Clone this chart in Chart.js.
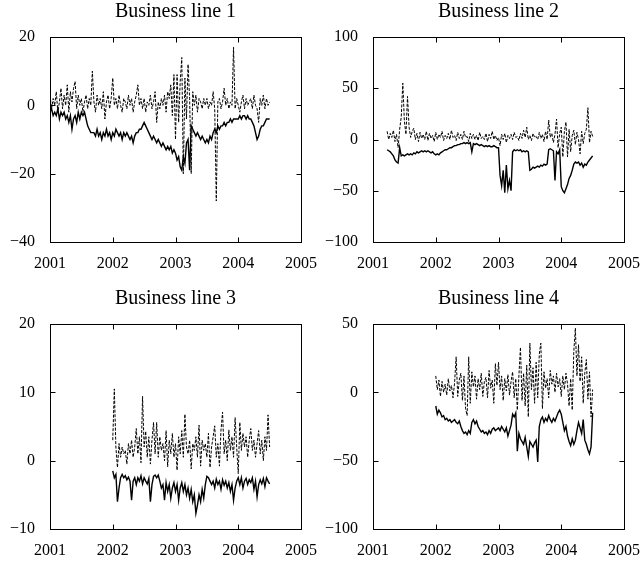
<!DOCTYPE html>
<html>
<head>
<meta charset="utf-8">
<script src="https://cdn.jsdelivr.net/npm/chart.js@4/dist/chart.umd.min.js"></script>
<style>
html,body{margin:0;padding:0;background:#fff;}
#wrap{position:relative;width:642px;height:561px;overflow:hidden;}
canvas{position:absolute;}
</style>
</head>
<body>
<div id="wrap">
<canvas id="c1" width="321" height="280" style="left:0;top:0"></canvas>
<canvas id="c2" width="321" height="280" style="left:321px;top:0"></canvas>
<canvas id="c3" width="321" height="281" style="left:0;top:280px"></canvas>
<canvas id="c4" width="321" height="281" style="left:321px;top:280px"></canvas>
</div>
<script>
// ---- data (sampled every 0.025 year) ----
const titles = ["Business line 1", "Business line 2", "Business line 3", "Business line 4"];
const xTicks = [2001, 2002, 2003, 2004, 2005];
const sampleStep = 0.025;
const starts = [2001.0, 2001.225, 2002.0, 2002.0];
const yTicks1 = [-40, -20, 0, 20];
const yTicks2 = [-100, -50, 0, 50, 100];
const yTicks3 = [-10, 0, 10, 20];
const yTicks4 = [-100, -50, 0, 50];

const bl1Dashed = [
 3,-1,2,0, 4,-2,1,5, -1,3,0,6, -2,4,1,5, 7,-1,3,0, 2,-2,1,3, -1,2,0,10, 1,-2,3,0, 2,-1,4,-4, 1,3,-1,2,
 8,0,2,-1, 3,0,-2,2, 1,-1,3,0, 2,-2,1,3, 6,0,2,-1, 2,-2,1,0, 3,-1,1,4, -5,1,-1,2, 0,3,-2,4, 2,6,-3,9,
 -10,9,-5,7, 14,-20,8,-4, 12,2,-20,4, 0,3,-2,2, 1,-1,2,0, 2,-1,1,0, 4,-1,-28,1, 2,-1,1,5, 0,2,-1,1, 0,17,-1,2,
 0,-2,1,3, -1,2,0,1, 2,-1,3,0, -1,-5,2,0, 3,-1,2,0, 1];
const bl1Solid = [
 -2,-1,-3,-2, -3,-1,-4,-2, -3,-2,-4,-3, -5,-3,-7,-4, -3,-5,-2,-4, -2,-3,-2,-4, -6,-7,-8,-8, -8,-9,-7,-9, -8,-10,-8,-9, -7,-9,-8,-10,
 -8,-9,-7,-8, -9,-8,-10,-8, -9,-8,-9,-10, -9,-11,-9,-8, -8,-7,-7,-6, -5,-6,-7,-8, -9,-10,-9,-10, -11,-10,-11,-12, -11,-12,-13,-12, -13,-12,-14,-13,
 -14,-16,-15,-18, -19,-15,-17,-11, -10,-19,-6,-7, -8,-9,-8,-9, -10,-9,-10,-11, -10,-11,-9,-10, -8,-7,-8,-6, -7,-6,-6,-5, -6,-5,-5,-4, -5,-4,-4,-4,
 -4,-3,-4,-3, -3,-4,-3,-4, -4,-5,-6,-8, -10,-9,-7,-6, -6,-5,-4,-4, -4];

const bl2Dashed = [
 8,0,6,
 2,9,-2,5, -8,10,22,55, 18,5,42,12, 2,8,11,0, 6,-2,7,1, 5,0,8,-1, 6,1,4,-2,
 7,0,5,2, 8,-1,4,1, 6,0,9,2, 4,-1,7,1, 5,0,8,2, 3,-2,6,1, 5,0,4,-1, 7,1,3,0, 6,-2,5,1, 8,0,4,-1,
 2,-6,5,0, 6,-3,4,1, 5,0,7,2, 3,-1,6,1, 9,2,12,0, 4,-1,6,2, 3,0,7,1, 5,-2,8,0, 19,2,6,-3, 5,20,-8,6,
 12,-17,8,17, -17,10,-12,4, 9,-5,7,0, -14,8,-4,6, 10,31,-3,8, 3];
const bl2Solid = [
 -10,-11,-12,
 -14,-16,-20,-22, -23,-8,-16,-15, -16,-15,-14,-15, -14,-15,-13,-14, -12,-13,-12,-11, -12,-11,-12,-11, -12,-13,-12,-14,
 -15,-14,-15,-13, -12,-11,-10,-10, -9,-8,-8,-7, -6,-6,-5,-5, -4,-4,-3,-4, -3,-4,-3,-12, -4,-5,-4,-5, -6,-5,-6,-7, -6,-7,-6,-7, -7,-6,-7,-8,
 -8,-35,-45,-30, -52,-25,-48,-40, -50,-12,-10,-11, -10,-11,-10,-12, -11,-12,-11,-12, -30,-29,-27,-28, -27,-26,-27,-25, -26,-24,-25,-24, -10,-9,-10,-11, -40,-12,-14,-10,
 -46,-50,-52,-48, -44,-38,-35,-30, -24,-22,-23,-22, -25,-23,-27,-24, -25,-22,-20,-18, -16];

const bl3Dashed = [
 3,10.5,2,-1, 2.5,0.5,2,1, 1.5,-0.5,2.5,1, 3,0.5,2,4.7, 1,3.5,-0.3,9.4, 2,4.3,0.5,3.5, -0.5,3,5.6,1, 5.6,0.5,3.5,1.5, 2.5,0,4.4,-0.9, 3,1,4,0.5,
 2.5,-1.4,3.5,1, 4.4,0.5,6.8,2, 1,3,-1.2,2.5, 1.5,3.5,0.5,5.2, -0.8,3,1.5,2.5, 0.5,4,-1,2, 3.5,5.1,0.5,2.5, -0.8,4.5,7.1,1, 3,0,4.5,1.5, 3.5,0.5,6.3,2,
 -1.9,5.6,1.5,4, 2,3.5,0.5,3, 4.7,1.5,3,0.5, 2.5,4.4,1,3, 0,3.5,1.5,6.7, 2];
const bl3Solid = [
 -1.5,-2.5,-2,-6, -4,-2.5,-2,-2.5, -2.2,-2.8,-2.4,-3, -5.8,-3,-2.5,-3.5, -2.5,-3,-2.2,-3.4, -2.5,-3,-3.4,-2.6, -6,-3.5,-2.3,-2.1, -2.5,-2.1,-3,-4, -3.5,-5.8,-3.2,-4.5, -3.5,-5.5,-4,-3.2,
 -4.5,-3.5,-5.8,-4, -3.2,-4.5,-3.5,-5, -4,-5.5,-4.2,-6, -5,-7.7,-6.5,-5, -6,-4.2,-5.5,-3.5, -2.3,-2.5,-3,-3.5, -3,-4,-2.7,-3.5, -3,-4.2,-2.8,-3.6, -3,-4,-3.2,-4.5, -3.5,-5.8,-4,-3,
 -2.5,-3.5,-2.5,-4, -3,-2.6,-3.5,-2.8, -3.2,-2.5,-4.2,-3, -5.3,-3.5,-2.8,-3.4, -2.6,-3.8,-2.5,-3, -3.4];

const bl4Dashed = [
 12,2,9,-3, 8,0,6,-2, 10,1,5,-4, 7,26,-3,9, 14,-6,12,-12, -17,26,-8,15, 4,12,-5,10, 2,14,-3,8, 11,-4,16,3, 9,-8,21,5,
 22,2,12,-6, 10,1,13,-2, 8,15,-4,10, -13,12,33,-6, 14,-10,20,-18, 36,2,18,-8, 22,-4,28,36, -12,15,3,10, -4,16,6,12, 0,14,4,10,
 -3,12,2,14, 6,-10,10,-13, 30,47,12,35, 8,26,-8,14, 24,-5,15,-18, 2];
const bl4Solid = [
 -10,-16,-13,-15, -18,-17,-20,-19, -21,-20,-22,-21, -20,-22,-23,-21, -25,-28,-30,-29, -31,-28,-30,-22, -20,-23,-21,-25, -27,-29,-28,-30, -29,-31,-28,-30, -27,-26,-28,-27,
 -26,-28,-25,-27, -29,-26,-32,-28, -24,-16,-18,-15, -43,-30,-34,-36, -38,-33,-40,-47, -36,-38,-40,-37, -35,-51,-25,-20, -18,-22,-19,-21, -17,-20,-22,-19, -21,-18,-15,-13,
 -16,-22,-28,-25, -32,-36,-39,-34, -38,-35,-28,-22, -26,-30,-20,-35, -38,-42,-45,-40, -15];

const panels = [
 {id:'c1', title:titles[0], start:starts[0], dashed:bl1Dashed, solid:bl1Solid, yTicks:yTicks1, yW:50, padR:20, xH:38, topArea:37, titleTop:0},
 {id:'c2', title:titles[1], start:starts[1], dashed:bl2Dashed, solid:bl2Solid, yTicks:yTicks2, yW:52, padR:18, xH:38, topArea:37, titleTop:0},
 {id:'c3', title:titles[2], start:starts[2], dashed:bl3Dashed, solid:bl3Solid, yTicks:yTicks3, yW:50, padR:20, xH:32, topArea:44, titleTop:7},
 {id:'c4', title:titles[3], start:starts[3], dashed:bl4Dashed, solid:bl4Solid, yTicks:yTicks4, yW:52, padR:18, xH:32, topArea:44, titleTop:7}
];

const FONT = "'Liberation Serif','Times New Roman',serif";
const TITLE_SIZE = 20;
const fmt = v => (v < 0 ? '\u2212' + Math.abs(v) : String(v));

const framePlugin = {
  id: 'frame',
  afterDraw(chart) {
    const {ctx, chartArea: a, scales: {x, y}} = chart;
    const L = 5;
    ctx.save();
    ctx.strokeStyle = '#000';
    ctx.lineWidth = 1;
    const l = Math.round(a.left) + 0.5, r = Math.round(a.right) + 0.5;
    const t = Math.round(a.top) + 0.5, b = Math.round(a.bottom) + 0.5;
    ctx.strokeRect(l, t, r - l, b - t);
    ctx.beginPath();
    x.ticks.forEach(tk => {
      const px = Math.round(x.getPixelForValue(tk.value)) + 0.5;
      ctx.moveTo(px, b); ctx.lineTo(px, b - L);
      ctx.moveTo(px, t); ctx.lineTo(px, t + L);
    });
    y.ticks.forEach(tk => {
      const py = Math.round(y.getPixelForValue(tk.value)) + 0.5;
      ctx.moveTo(l, py); ctx.lineTo(l + L, py);
      ctx.moveTo(r, py); ctx.lineTo(r - L, py);
    });
    ctx.stroke();
    ctx.restore();
  }
};

panels.forEach(p => {
  const toPts = arr => arr.map((v, i) => ({x: p.start + i * sampleStep, y: v}));
  const yMin = p.yTicks[0], yMax = p.yTicks[p.yTicks.length - 1];
  const titleH = TITLE_SIZE * 1.2;
  const cvs = document.getElementById(p.id);
  new Chart(cvs, {
    type: 'line',
    data: {
      datasets: [
        {data: toPts(p.solid), borderColor: '#000', borderWidth: 1.4, pointRadius: 0, tension: 0, fill: false},
        {data: toPts(p.dashed), borderColor: '#000', borderWidth: 1.0, borderDash: [3, 1.5], pointRadius: 0, tension: 0, fill: false}
      ]
    },
    options: {
      responsive: false,
      animation: false,
      devicePixelRatio: 1,
      layout: {padding: {left: 0, right: p.padR, top: 0, bottom: 0}},
      plugins: {
        legend: {display: false},
        tooltip: {enabled: false},
        title: {
          display: true, text: p.title, color: '#000', fullSize: false,
          font: {family: FONT, size: TITLE_SIZE, weight: 'normal', lineHeight: 1.2},
          padding: {top: p.titleTop, bottom: p.topArea - p.titleTop - titleH}
        }
      },
      scales: {
        x: {
          type: 'linear', min: xTicks[0], max: xTicks[xTicks.length - 1],
          afterBuildTicks: s => { s.ticks = xTicks.map(v => ({value: v})); },
          afterFit: s => { s.height = p.xH; s.paddingLeft = 0; s.paddingRight = 0; },
          grid: {display: false, drawTicks: false},
          border: {display: false},
          ticks: {color: '#000', font: {family: FONT, size: 16}, padding: 12, maxRotation: 0, autoSkip: false, callback: v => String(v)}
        },
        y: {
          type: 'linear', min: yMin, max: yMax,
          afterBuildTicks: s => { s.ticks = p.yTicks.map(v => ({value: v})); },
          afterFit: s => { s.width = p.yW; s.paddingTop = 0; s.paddingBottom = 0; },
          grid: {display: false, drawTicks: false},
          border: {display: false},
          ticks: {color: '#000', font: {family: FONT, size: 16}, padding: 15, autoSkip: false, callback: v => fmt(v)}
        }
      }
    },
    plugins: [framePlugin]
  });
});
</script>
</body>
</html>
